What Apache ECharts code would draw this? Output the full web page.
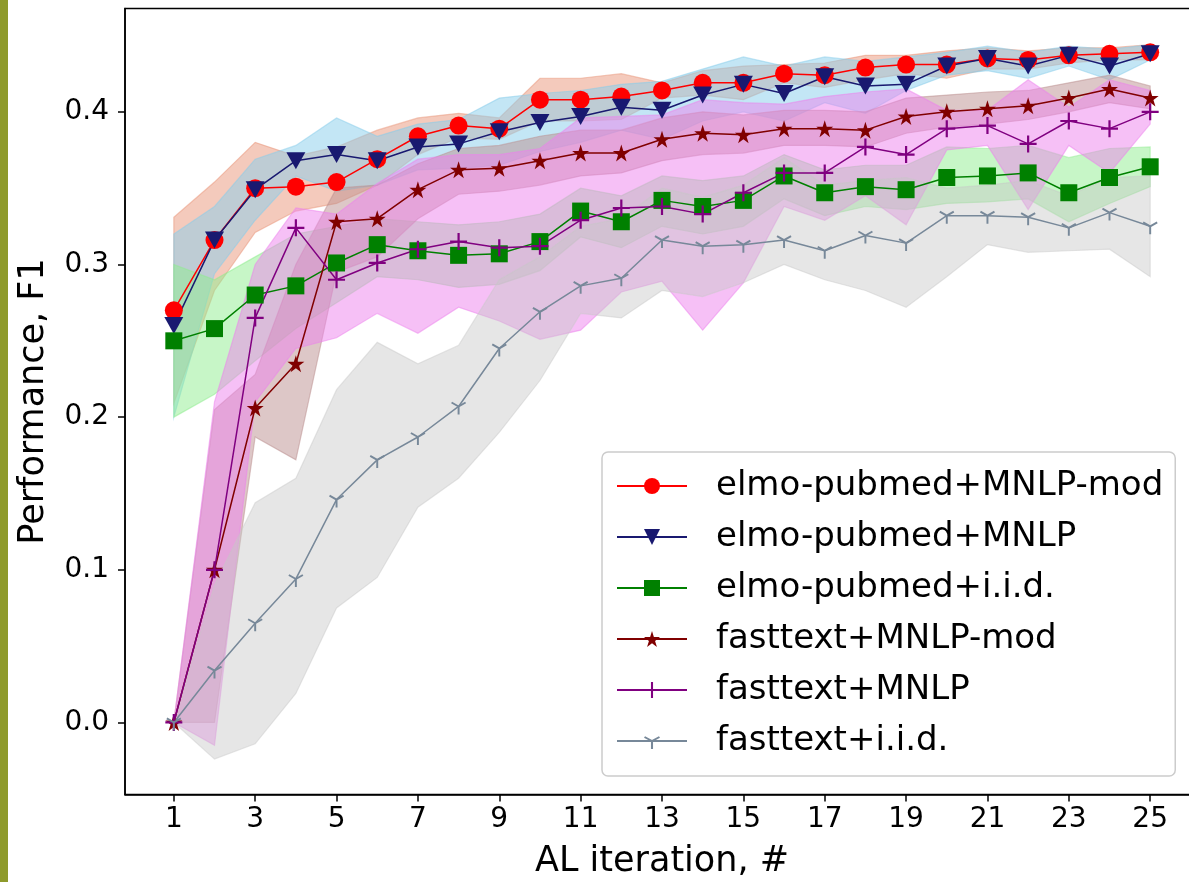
<!DOCTYPE html>
<html>
<head>
<meta charset="utf-8">
<script src="https://cdn.jsdelivr.net/npm/echarts@6/dist/echarts.min.js"></script>
<style>
  html, body { margin: 0; padding: 0; background: #ffffff; }
  #chart { width: 1189px; height: 882px; }
</style>
</head>
<body>
<div id="chart"></div>
<script>
// Active-learning iterations on the x axis
const iterations = [1, 2, 3, 4, 5, 6, 7, 8, 9, 10, 11, 12, 13, 14, 15, 16, 17, 18, 19, 20, 21, 22, 23, 24, 25];
const xTicks = [1, 3, 5, 7, 9, 11, 13, 15, 17, 19, 21, 23, 25];
const yTicks = [0.0, 0.1, 0.2, 0.3, 0.4];

const seriesNames = [
  'elmo-pubmed+MNLP-mod',
  'elmo-pubmed+MNLP',
  'elmo-pubmed+i.i.d.',
  'fasttext+MNLP-mod',
  'fasttext+MNLP',
  'fasttext+i.i.d.'
];

// elmo-pubmed+MNLP-mod
const elmoModMean  = [0.270, 0.316, 0.350, 0.351, 0.354, 0.369, 0.384, 0.391, 0.389, 0.408, 0.408, 0.410, 0.414, 0.419, 0.419, 0.425, 0.424, 0.429, 0.431, 0.431, 0.435, 0.434, 0.437, 0.438, 0.439];
const elmoModLow   = [0.209, 0.283, 0.321, 0.335, 0.340, 0.352, 0.372, 0.383, 0.382, 0.394, 0.394, 0.395, 0.409, 0.411, 0.408, 0.419, 0.416, 0.421, 0.425, 0.422, 0.428, 0.428, 0.432, 0.434, 0.434];
const elmoModHigh  = [0.331, 0.354, 0.380, 0.371, 0.377, 0.388, 0.396, 0.399, 0.396, 0.422, 0.422, 0.425, 0.419, 0.427, 0.430, 0.431, 0.432, 0.437, 0.437, 0.440, 0.442, 0.440, 0.442, 0.442, 0.444];

// elmo-pubmed+MNLP
const elmoMnlpMean = [0.260, 0.316, 0.349, 0.368, 0.372, 0.368, 0.377, 0.379, 0.387, 0.393, 0.397, 0.403, 0.401, 0.411, 0.418, 0.412, 0.423, 0.417, 0.418, 0.430, 0.435, 0.430, 0.437, 0.430, 0.438];
const elmoMnlpLow  = [0.200, 0.294, 0.329, 0.358, 0.348, 0.352, 0.362, 0.363, 0.365, 0.374, 0.380, 0.388, 0.382, 0.394, 0.400, 0.394, 0.406, 0.399, 0.414, 0.424, 0.427, 0.422, 0.430, 0.421, 0.434];
const elmoMnlpHigh = [0.320, 0.338, 0.369, 0.378, 0.396, 0.384, 0.392, 0.395, 0.409, 0.412, 0.414, 0.418, 0.420, 0.428, 0.436, 0.430, 0.436, 0.433, 0.436, 0.439, 0.443, 0.439, 0.443, 0.441, 0.444];

// elmo-pubmed+i.i.d.
const elmoIidMean  = [0.250, 0.258, 0.280, 0.286, 0.301, 0.313, 0.309, 0.306, 0.307, 0.315, 0.335, 0.328, 0.342, 0.338, 0.342, 0.358, 0.347, 0.351, 0.349, 0.357, 0.358, 0.360, 0.347, 0.357, 0.364];
const elmoIidLow   = [0.200, 0.215, 0.237, 0.258, 0.275, 0.292, 0.290, 0.285, 0.287, 0.296, 0.318, 0.311, 0.325, 0.320, 0.325, 0.343, 0.332, 0.338, 0.336, 0.340, 0.341, 0.343, 0.328, 0.340, 0.351];
const elmoIidHigh  = [0.300, 0.290, 0.305, 0.320, 0.325, 0.330, 0.328, 0.326, 0.328, 0.333, 0.350, 0.345, 0.358, 0.355, 0.358, 0.372, 0.362, 0.365, 0.365, 0.377, 0.376, 0.378, 0.370, 0.376, 0.377];

// fasttext+MNLP-mod
const ftModMean    = [0.000, 0.100, 0.206, 0.235, 0.328, 0.330, 0.349, 0.362, 0.363, 0.368, 0.373, 0.373, 0.382, 0.386, 0.385, 0.389, 0.389, 0.388, 0.397, 0.400, 0.402, 0.404, 0.409, 0.415, 0.409];
const ftModLow     = [0.000, 0.000, 0.187, 0.172, 0.295, 0.305, 0.330, 0.346, 0.348, 0.352, 0.358, 0.360, 0.368, 0.372, 0.373, 0.378, 0.378, 0.377, 0.386, 0.390, 0.392, 0.395, 0.400, 0.406, 0.402];
const ftModHigh    = [0.000, 0.205, 0.228, 0.300, 0.350, 0.352, 0.366, 0.376, 0.378, 0.384, 0.388, 0.388, 0.396, 0.400, 0.398, 0.401, 0.401, 0.400, 0.409, 0.411, 0.413, 0.414, 0.419, 0.424, 0.417];

// fasttext+MNLP
const ftMnlpMean   = [0.000, 0.100, 0.265, 0.324, 0.290, 0.301, 0.310, 0.315, 0.311, 0.312, 0.329, 0.337, 0.338, 0.333, 0.347, 0.360, 0.360, 0.377, 0.372, 0.389, 0.391, 0.379, 0.394, 0.389, 0.400];
const ftMnlpLow    = [0.000, -0.015, 0.210, 0.245, 0.252, 0.268, 0.255, 0.272, 0.263, 0.251, 0.257, 0.282, 0.289, 0.257, 0.288, 0.338, 0.329, 0.345, 0.326, 0.375, 0.378, 0.336, 0.378, 0.360, 0.392];
const ftMnlpHigh   = [0.000, 0.210, 0.300, 0.337, 0.333, 0.353, 0.369, 0.372, 0.372, 0.376, 0.396, 0.397, 0.398, 0.408, 0.406, 0.405, 0.410, 0.413, 0.415, 0.401, 0.401, 0.421, 0.403, 0.421, 0.414];

// fasttext+i.i.d.
const ftIidMean    = [0.000, 0.034, 0.065, 0.094, 0.146, 0.172, 0.187, 0.207, 0.245, 0.269, 0.286, 0.291, 0.316, 0.312, 0.313, 0.316, 0.309, 0.319, 0.314, 0.332, 0.332, 0.331, 0.324, 0.334, 0.325];
const ftIidLow     = [0.000, -0.024, -0.014, 0.019, 0.075, 0.095, 0.141, 0.160, 0.190, 0.224, 0.268, 0.265, 0.283, 0.279, 0.288, 0.300, 0.290, 0.283, 0.272, 0.292, 0.313, 0.308, 0.309, 0.310, 0.292];
const ftIidHigh    = [0.000, 0.090, 0.144, 0.160, 0.218, 0.249, 0.235, 0.247, 0.290, 0.305, 0.325, 0.330, 0.350, 0.344, 0.352, 0.370, 0.352, 0.355, 0.357, 0.350, 0.352, 0.355, 0.345, 0.357, 0.358];

// ---- marker shapes ----
function starSymbol() {
  let d = '';
  for (let k = 0; k < 10; k++) {
    const r = k % 2 === 0 ? 1 : 0.382;
    const a = -Math.PI / 2 + k * Math.PI / 5;
    d += (k ? 'L' : 'M') + (r * Math.cos(a)).toFixed(4) + ',' + (r * Math.sin(a)).toFixed(4);
  }
  return 'path://' + d + 'Z';
}
function plusSymbol(t) {
  return 'path://M-1,-' + t + 'L-' + t + ',-' + t + 'L-' + t + ',-1L' + t + ',-1L' + t + ',-' + t +
    'L1,-' + t + 'L1,' + t + 'L' + t + ',' + t + 'L' + t + ',1L-' + t + ',1L-' + t + ',' + t + 'L-1,' + t + 'Z';
}
// three-armed "Y" marker (arms down, upper-left, upper-right)
function triDownSymbol(t) {
  const arms = [Math.PI / 2, Math.PI * 7 / 6, -Math.PI / 6];
  let d = '';
  arms.forEach(function (a) {
    const ux = Math.cos(a), uy = Math.sin(a);
    const px = -uy * t, py = ux * t;
    const pts = [[px, py], [ux + px, uy + py], [ux - px, uy - py], [-px, -py]];
    d += pts.map(function (p, i) { return (i ? 'L' : 'M') + p[0].toFixed(4) + ',' + p[1].toFixed(4); }).join('') + 'Z';
  });
  // tiny anchors keep the marker centred on its point
  d += 'M0,-1L0.001,-1L0,-0.999Z';
  return 'path://' + d;
}

function pairs(values) {
  return iterations.map(function (x, i) { return [x, values[i]]; });
}

function lineSeries(name, values, color, symbol, size, extra) {
  return Object.assign({
    type: 'line',
    name: name,
    data: pairs(values),
    z: 5,
    symbol: symbol,
    symbolSize: size,
    showAllSymbol: true,
    lineStyle: { color: color, width: 1.5 },
    itemStyle: { color: color, borderWidth: 0 },
    emphasis: { disabled: true },
    animation: false
  }, extra || {});
}

function bandSeries(low, high, fill, alpha) {
  return {
    type: 'custom',
    name: '',
    silent: true,
    z: 1,
    data: [0],
    animation: false,
    renderItem: function (params, api) {
      const pts = [];
      for (let i = 0; i < iterations.length; i++) pts.push(api.coord([iterations[i], high[i]]));
      for (let i = iterations.length - 1; i >= 0; i--) pts.push(api.coord([iterations[i], low[i]]));
      return {
        type: 'polygon',
        shape: { points: pts },
        style: { fill: fill, opacity: alpha, stroke: fill, lineWidth: 1.2 }
      };
    }
  };
}

const chart = echarts.init(document.getElementById('chart'), null, { renderer: 'canvas' });

const font = 'DejaVu Sans';

chart.setOption({
  animation: false,
  backgroundColor: '#ffffff',
  grid: {
    left: 125, top: 8.5, width: 1074, height: 786,
    outerBoundsMode: 'none', containLabel: false,
    show: true, borderColor: '#000000', borderWidth: 1.5, backgroundColor: 'transparent'
  },
  xAxis: {
    type: 'value',
    min: -0.2,
    max: 26.2,
    axisLine: { show: true, onZero: false, lineStyle: { color: '#000000', width: 1.5 } },
    axisTick: { show: true, inside: false, length: 7, customValues: xTicks, lineStyle: { color: '#000000', width: 1.5 } },
    axisLabel: { customValues: xTicks, margin: 11, fontSize: 28, fontFamily: font, color: '#000000' },
    splitLine: { show: false }
  },
  yAxis: {
    type: 'value',
    min: -0.0472,
    max: 0.4677,
    axisLine: { show: true, onZero: false, lineStyle: { color: '#000000', width: 1.5 } },
    axisTick: { show: true, inside: false, length: 7, customValues: yTicks, lineStyle: { color: '#000000', width: 1.5 } },
    axisLabel: { customValues: yTicks, margin: 16, fontSize: 28, fontFamily: font, color: '#000000',
      formatter: function (v) { return v.toFixed(1); } },
    splitLine: { show: false }
  },
  legend: {
    data: seriesNames,
    orient: 'vertical',
    left: 602,
    top: 452,
    padding: [17, 12, 18, 14],
    itemWidth: 70,
    itemHeight: 20,
    itemGap: 17,
    backgroundColor: 'rgba(255,255,255,0.8)',
    borderColor: '#cccccc',
    borderWidth: 1.5,
    borderRadius: 6,
    selectedMode: false,
    textStyle: { fontSize: 34, lineHeight: 34, fontFamily: font, color: '#000000', padding: [0, 0, 0, 24] }
  },
  graphic: [
    { type: 'rect', left: 0, top: 0, shape: { width: 8, height: 882 }, style: { fill: '#8e9a2b' } },
    { type: 'text', x: 34, y: 401.5, rotation: Math.PI / 2,
      style: { text: 'Performance, F1', fontSize: 35, fontFamily: font, fill: '#000000', align: 'center', verticalAlign: 'middle' } },
    { type: 'text', x: 662, y: 862,
      style: { text: 'AL iteration, #', fontSize: 35, fontFamily: font, fill: '#000000', align: 'center', verticalAlign: 'middle' } }
  ],
  series: [
    bandSeries(elmoModLow, elmoModHigh, '#e9967a', 0.5),
    bandSeries(elmoMnlpLow, elmoMnlpHigh, '#87ceeb', 0.5),
    bandSeries(elmoIidLow, elmoIidHigh, '#90ee90', 0.5),
    bandSeries(ftModLow, ftModHigh, '#bc8f8f', 0.5),
    bandSeries(ftMnlpLow, ftMnlpHigh, '#ee82ee', 0.5),
    bandSeries(ftIidLow, ftIidHigh, '#c8c8c8', 0.45),
    lineSeries(seriesNames[0], elmoModMean, '#ff0000', 'circle', 18),
    lineSeries(seriesNames[1], elmoMnlpMean, '#191970', 'triangle', [19, 17], { symbolRotate: 180 }),
    lineSeries(seriesNames[2], elmoIidMean, '#008000', 'rect', 17),
    lineSeries(seriesNames[3], ftModMean, '#800000', starSymbol(), 17),
    lineSeries(seriesNames[4], ftMnlpMean, '#800080', plusSymbol(0.13), 17),
    lineSeries(seriesNames[5], ftIidMean, '#778899', triDownSymbol(0.12), [15, 16])
  ]
});
</script>
</body>
</html>
